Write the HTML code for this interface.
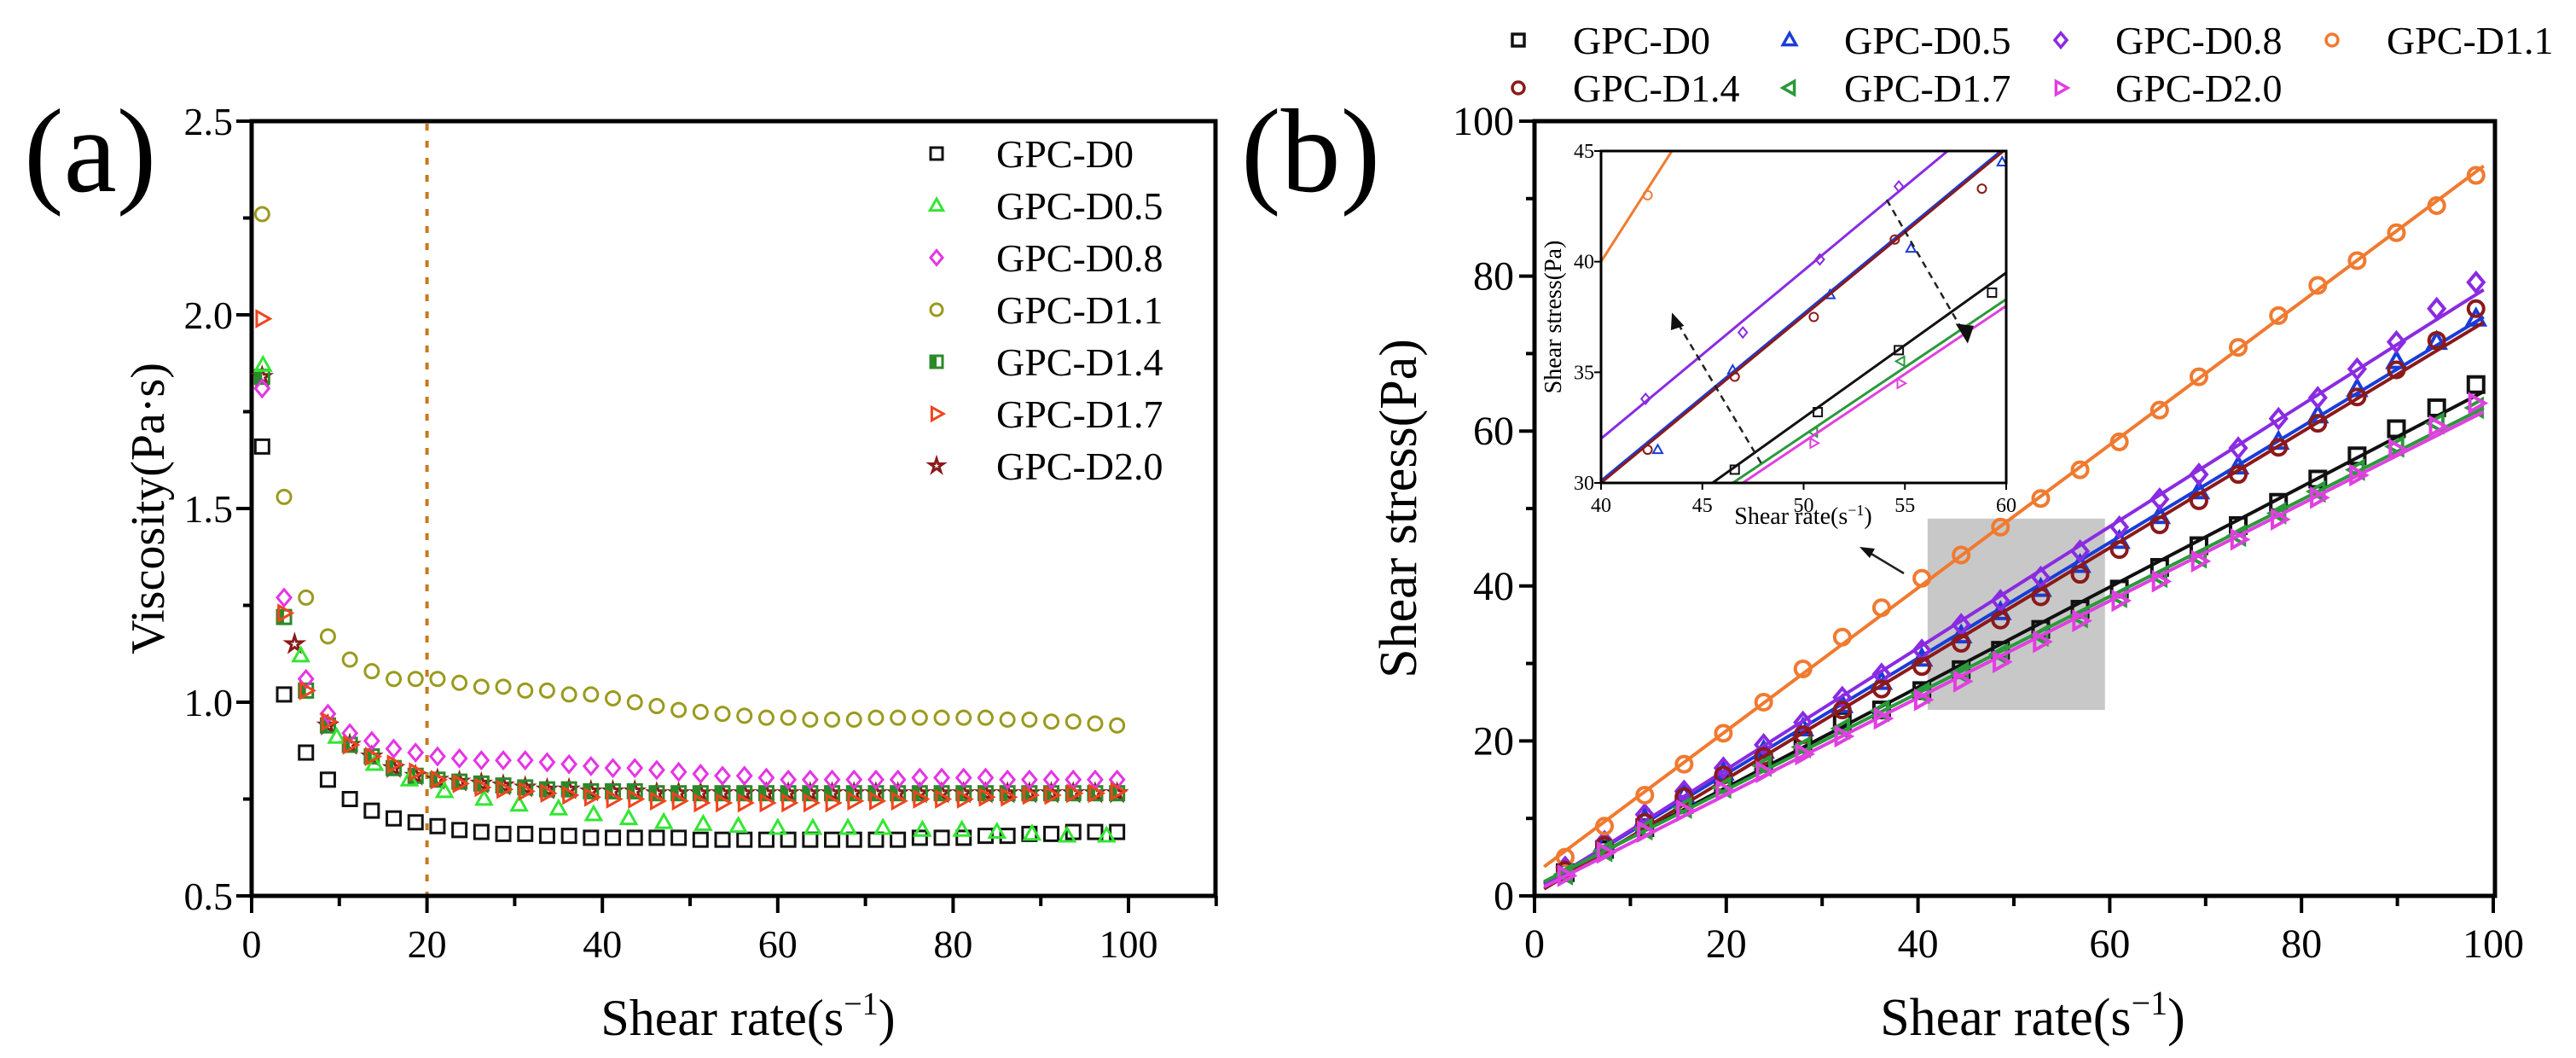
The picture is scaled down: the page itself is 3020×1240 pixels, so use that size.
<!DOCTYPE html>
<html><head><meta charset="utf-8">
<style>
html,body{margin:0;padding:0;background:#fff;}
svg{display:block;font-family:"Liberation Serif",serif;}
</style></head>
<body>
<svg id="fig" width="3020" height="1240" viewBox="0 0 3020 1240" xmlns="http://www.w3.org/2000/svg"></svg>
<script>
// ---------- Panel (a) data ----------
const aX = [1.2,3.7,6.2,8.7,11.2,13.7,16.2,18.7,21.2,23.7,26.2,28.7,31.2,33.7,36.2,38.7,41.2,43.7,46.2,48.7,51.2,53.7,56.2,58.7,61.2,63.7,66.2,68.7,71.2,73.7,76.2,78.7,81.2,83.7,86.2,88.7,91.2,93.7,96.2,98.7];
const aD0 = [1.66,1.02,0.87,0.80,0.75,0.72,0.70,0.69,0.68,0.67,0.665,0.66,0.66,0.655,0.655,0.65,0.65,0.65,0.65,0.65,0.645,0.645,0.645,0.645,0.645,0.645,0.645,0.645,0.645,0.645,0.65,0.65,0.65,0.655,0.655,0.66,0.66,0.665,0.665,0.665];
const aD11 = [2.26,1.53,1.27,1.17,1.11,1.08,1.06,1.06,1.06,1.05,1.04,1.04,1.03,1.03,1.02,1.02,1.01,1.00,0.99,0.98,0.975,0.97,0.965,0.96,0.96,0.955,0.955,0.955,0.96,0.96,0.96,0.96,0.96,0.96,0.955,0.955,0.95,0.95,0.945,0.94];
const aD08 = [1.81,1.27,1.06,0.97,0.92,0.90,0.88,0.87,0.86,0.855,0.85,0.85,0.85,0.845,0.84,0.835,0.83,0.83,0.825,0.82,0.815,0.81,0.81,0.805,0.80,0.80,0.80,0.80,0.80,0.80,0.805,0.805,0.805,0.805,0.80,0.80,0.80,0.80,0.80,0.80];
const aD14 = [1.84,1.22,1.03,0.94,0.89,0.86,0.83,0.81,0.80,0.795,0.79,0.785,0.78,0.775,0.775,0.77,0.77,0.77,0.765,0.765,0.765,0.765,0.765,0.765,0.765,0.765,0.765,0.765,0.765,0.765,0.765,0.765,0.765,0.765,0.765,0.765,0.765,0.765,0.765,0.765];
const aD17 = [1.99,1.23,1.03,0.95,0.89,0.86,0.84,0.82,0.80,0.79,0.78,0.775,0.77,0.765,0.76,0.755,0.75,0.75,0.745,0.745,0.74,0.74,0.74,0.74,0.74,0.74,0.74,0.745,0.745,0.745,0.75,0.75,0.75,0.755,0.755,0.76,0.76,0.765,0.765,0.77];
const aX20 = [1.2,4.9,8.7,11.2,13.7,16.2,18.7,21.2,23.7,26.2,28.7,31.2,33.7,36.2,38.7,41.2,43.7,46.2,48.7,51.2,53.7,56.2,58.7,61.2,63.7,66.2,68.7,71.2,73.7,76.2,78.7,81.2,83.7,86.2,88.7,91.2,93.7,96.2,98.7];
const aD20 = [1.84,1.15,0.94,0.89,0.86,0.83,0.81,0.80,0.795,0.79,0.785,0.78,0.775,0.775,0.77,0.77,0.77,0.765,0.765,0.765,0.765,0.765,0.765,0.765,0.765,0.765,0.765,0.765,0.765,0.765,0.765,0.765,0.765,0.765,0.765,0.765,0.765,0.765,0.765];
const aX05 = [1.3,5.6,9.7,14,18,22,26.5,30.5,35,39,43,47,51.5,55.5,60,64,68,72,76.5,81,85,89,93,97.5];
const aD05 = [1.87,1.12,0.91,0.84,0.80,0.77,0.75,0.735,0.725,0.71,0.70,0.69,0.685,0.68,0.675,0.675,0.675,0.675,0.67,0.67,0.665,0.66,0.655,0.655];
const aYTicks = [0.5,1.0,1.5,2.0,2.5];
const aXTicks = [0,20,40,60,80,100];
const aRefLine = [20];

// ---------- Panel (b) data ----------
const bX = [3.2,7.3,11.5,15.6,19.7,23.9,28,32.1,36.2,40.4,44.5,48.6,52.8,56.9,61,65.2,69.3,73.4,77.6,81.7,85.8,89.9,94.1,98.2];
const bD0 = [3,6,8.8,11.8,14.5,17.2,20,22.6,24,26.5,29.2,31.7,34.4,37,39.6,42.4,45.2,47.8,50.8,53.8,56.8,60.3,63,66];
const bD05 = [3.5,6.8,9.9,13,15.9,18.7,21.6,24.6,27.6,30.6,33.6,36.6,39.6,42.7,45.8,49,52.2,55.4,58.6,62,65.4,69,71.5,74.5];
const bD08 = [3.7,7,10.5,13.5,16.5,19.5,22.4,25.6,28.6,31.7,35,38.1,41.1,44.5,47.6,51.2,54.4,57.8,61.6,64.3,68,71.5,75.8,79.2];
const bD11 = [5,9,13,17,21,25,29.3,33.4,37.2,41,44,47.6,51.3,55,58.6,62.7,67,70.8,74.9,78.8,82,85.6,89.1,93];
const bD14 = [3.3,6.5,9.5,12.8,15.6,18,20.8,24,26.7,29.6,32.6,35.6,38.6,41.5,44.7,47.9,51,54.4,57.9,61,64.4,67.9,71.7,75.8];
const bD17 = [2.8,5.8,8.6,11.4,14,16.8,19.2,21.6,23.9,26.2,28.8,31.2,33.6,36,38.6,41.2,43.7,46.5,49.4,52.2,55,58,61,63];
const bD20 = [2.6,5.6,8.3,11,13.6,16,18.3,20.6,22.9,25.3,27.7,30.2,32.8,35.5,38.1,40.6,43.2,46,48.6,51.4,54.3,57.6,60.6,63.6];
const bYTicks = [0,20,40,60,80,100];
const bXTicks = [0,20,40,60,80,100];
const bHighlightX = [41,59.5];
const bHighlightY = [24,48.7];

// ---------- Inset data ----------
const iLineX = [40,60];
const iLineD11 = [40,68.6];
const iLineD08 = [32,47.2];
const iLineD14 = [30,45.1];
const iLineD05 = [30.1,45.2];
const iLineD0 = [26.4,39.5];
const iLineD17 = [26,38.3];
const iLineD20 = [25.7,38];
const iPtD11x = [42.3], iPtD11y = [43];
const iPtD08x = [42.2,47,50.8,54.7], iPtD08y = [33.8,36.8,40.1,43.4];
const iPtD14x = [42.3,46.6,50.5,54.5,58.8], iPtD14y = [31.5,34.8,37.5,41,43.3];
const iPtD05x = [42.8,46.5,51.3,55.3,59.8], iPtD05y = [31.5,35.1,38.5,40.6,44.5];
const iPtD0x = [46.6,50.7,54.7,59.3], iPtD0y = [30.6,33.2,36,38.6];
const iPtD17x = [50.5,54.8], iPtD17y = [32.3,35.5];
const iPtD20x = [50.5,54.8], iPtD20y = [31.8,34.5];
const iXTicks = [40,45,50,55,60];
const iYTicks = [30,35,40,45];

const NS = "http://www.w3.org/2000/svg";
const svg = document.getElementById('fig');
function el(tag, attrs, parent, text){
  const e = document.createElementNS(NS, tag);
  for (const k in attrs) e.setAttribute(k, attrs[k]);
  if (text !== undefined) e.textContent = text;
  (parent || svg).appendChild(e);
  return e;
}
function marker(g, shape, cx, cy, r, color, sw){
  let m;
  if (shape === 'square') m = el('rect',{x:cx-r,y:cy-r,width:2*r,height:2*r,fill:'none',stroke:color,'stroke-width':sw},g);
  else if (shape === 'halfsquare'){ m = el('g',{},g);
    el('rect',{x:cx-r,y:cy-r,width:2*r,height:2*r,fill:'none',stroke:color,'stroke-width':sw},m);
    el('rect',{x:cx-r,y:cy-r,width:r,height:2*r,fill:color},m); }
  else if (shape === 'circle') m = el('circle',{cx:cx,cy:cy,r:r,fill:'none',stroke:color,'stroke-width':sw},g);
  else if (shape === 'up') m = el('polygon',{points:`${cx},${cy-r*1.15} ${cx-r*1.1},${cy+r*0.8} ${cx+r*1.1},${cy+r*0.8}`,fill:'none',stroke:color,'stroke-width':sw},g);
  else if (shape === 'diamond') m = el('polygon',{points:`${cx},${cy-r*1.2} ${cx+r},${cy} ${cx},${cy+r*1.2} ${cx-r},${cy}`,fill:'none',stroke:color,'stroke-width':sw},g);
  else if (shape === 'right') m = el('polygon',{points:`${cx+r*1.15},${cy} ${cx-r*0.8},${cy-r*1.1} ${cx-r*0.8},${cy+r*1.1}`,fill:'none',stroke:color,'stroke-width':sw},g);
  else if (shape === 'left') m = el('polygon',{points:`${cx-r*1.15},${cy} ${cx+r*0.8},${cy-r*1.1} ${cx+r*0.8},${cy+r*1.1}`,fill:'none',stroke:color,'stroke-width':sw},g);
  else if (shape === 'star'){ let p=[]; for(let k=0;k<10;k++){const a=-Math.PI/2+k*Math.PI/5; const rr=k%2?r*0.45:r*1.2; p.push((cx+rr*Math.cos(a)).toFixed(1)+','+(cy+rr*Math.sin(a)).toFixed(1));}
    m = el('polygon',{points:p.join(' '),fill:'none',stroke:color,'stroke-width':sw},g); }
  
  
  return m;
}
function axisFrame(L,R,T,B,name){
  const g = el('g',{});
  
  
  el('rect',{x:L,y:T,width:R-L,height:B-T,fill:'none',stroke:'#000','stroke-width':5},g);
  return g;
}

// ================= Panel (a) =================
const aL=295, aR=1425, aT=142, aB=1050;
const ax = v => aL + (v-0)*(1322-294)/100;
const ay = v => aB - (v-0.5)*(aB-aT)/2.0;
const ga = el('g',{});


const pa = el('text',{x:28,y:224,'font-size':140},ga,'(a)');
 
aRefLine.forEach(v=>{ const l=el('line',{x1:ax(v),y1:aT+3,x2:ax(v),y2:aB,stroke:'#c8781e','stroke-width':4,'stroke-dasharray':'8 12'},ga);
    });
const fa = axisFrame(aL,aR,aT,aB,'panel-a-axes'); ga.appendChild(fa);
aYTicks.forEach(v=>{ el('line',{x1:aL-18,y1:ay(v),x2:aL,y2:ay(v),stroke:'#000','stroke-width':4},fa);
  const t=el('text',{x:aL-22,y:ay(v)+16,'font-size':46,'text-anchor':'end'},fa,v.toFixed(1));
   
  if (v<2.5) el('line',{x1:aL-10,y1:ay(v+0.25),x2:aL,y2:ay(v+0.25),stroke:'#000','stroke-width':4},fa); });
for (let v=0; v<=110; v+=10){ el('line',{x1:ax(v),y1:aB,x2:ax(v),y2:aB+(v%20===0?20:12),stroke:'#000','stroke-width':4},fa); }
aXTicks.forEach(v=>{ const t=el('text',{x:ax(v),y:1122,'font-size':46,'text-anchor':'middle'},fa,String(v));
    });
const aXT = el('text',{x:877,y:1213,'font-size':60,'text-anchor':'middle'},ga);
 
aXT.appendChild(document.createTextNode('Shear rate(s'));
el('tspan',{dy:-24,'font-size':38},aXT,'−1');
el('tspan',{dy:24},aXT,')');
const aYT = el('text',{transform:`translate(192,${(aT+aB)/2}) rotate(-90)`,'font-size':56,'text-anchor':'middle'},ga,'Viscosity(Pa·s)');
 

const aSeries = [
  {n:'GPC-D0', x:aX, y:aD0, s:'square', c:'#111'},
  {n:'GPC-D0.5', x:aX05, y:aD05, s:'up', c:'#33e633'},
  {n:'GPC-D0.8', x:aX, y:aD08, s:'diamond', c:'#e633e6'},
  {n:'GPC-D1.1', x:aX, y:aD11, s:'circle', c:'#9a9a1e'},
  {n:'GPC-D1.4', x:aX, y:aD14, s:'halfsquare', c:'#2a8a2a'},
  {n:'GPC-D1.7', x:aX, y:aD17, s:'right', c:'#f0441e'},
  {n:'GPC-D2.0', x:aX20, y:aD20, s:'star', c:'#8b1a1a'}
];
const drawOrderA = [6,4,0,1,2,5,3];
drawOrderA.forEach(i=>{ const s=aSeries[i]; const g=el('g',{},ga);
  
  
  s.y.forEach((v,k)=>marker(g,s.s,ax(s.x[k]),ay(v),8,s.c,3)); });
aSeries.forEach((s,i)=>{ const yy=180+i*61; const g=el('g',{},ga);
   
  marker(g,s.s,1098,yy,7,s.c,3);
  el('text',{x:1168,y:yy+16,'font-size':46},g,s.n); });

// ================= Panel (b) =================
const bL=1799, bR=2925, bT=142, bB=1050;
const bx = v => bL + v*(2923-1799)/100;
const by = v => bB - v*(bB-bT)/100;
const gb = el('g',{});


const pb = el('text',{x:1455,y:224,'font-size':140},gb,'(b)');
 
const hb = el('rect',{x:bx(bHighlightX[0]),y:by(bHighlightY[1]),width:bx(bHighlightX[1])-bx(bHighlightX[0]),height:by(bHighlightY[0])-by(bHighlightY[1]),fill:'#c8c8c8'},gb);
 
const fb = axisFrame(bL,bR,bT,bB,'panel-b-axes'); gb.appendChild(fb);
bYTicks.forEach(v=>{ el('line',{x1:bL-18,y1:by(v),x2:bL,y2:by(v),stroke:'#000','stroke-width':4},fb);
  const t=el('text',{x:bL-24,y:by(v)+16,'font-size':48,'text-anchor':'end'},fb,String(v));
   
  if (v<100) el('line',{x1:bL-10,y1:by(v+10),x2:bL,y2:by(v+10),stroke:'#000','stroke-width':4},fb); });
for (let v=0; v<=100; v+=10){ el('line',{x1:bx(v),y1:bB,x2:bx(v),y2:bB+(v%20===0?20:12),stroke:'#000','stroke-width':4},fb); }
bXTicks.forEach(v=>{ const t=el('text',{x:bx(v),y:1122,'font-size':48,'text-anchor':'middle'},fb,String(v));
    });
const bXT = el('text',{x:2383,y:1213,'font-size':62,'text-anchor':'middle'},gb);
 
bXT.appendChild(document.createTextNode('Shear rate(s'));
el('tspan',{dy:-24,'font-size':40},bXT,'−1');
el('tspan',{dy:24},bXT,')');
const bYT = el('text',{transform:`translate(1660,${(bT+bB)/2}) rotate(-90)`,'font-size':62,'text-anchor':'middle'},gb,'Shear stress(Pa)');
 

const bSeries = [
  {n:'GPC-D0', y:bD0, s:'square', c:'#111'},
  {n:'GPC-D0.5', y:bD05, s:'up', c:'#1a3cd8'},
  {n:'GPC-D0.8', y:bD08, s:'diamond', c:'#8a2be2'},
  {n:'GPC-D1.1', y:bD11, s:'circle', c:'#f07a30'},
  {n:'GPC-D1.4', y:bD14, s:'circle', c:'#8b1a1a'},
  {n:'GPC-D1.7', y:bD17, s:'left', c:'#2a9a3a'},
  {n:'GPC-D2.0', y:bD20, s:'right', c:'#e040e0'}
];
function fit(xs,ys){ const n=xs.length; let sx=0,sy=0,sxx=0,sxy=0;
  for(let i=0;i<n;i++){sx+=xs[i];sy+=ys[i];sxx+=xs[i]*xs[i];sxy+=xs[i]*ys[i];}
  const b=(n*sxy-sx*sy)/(n*sxx-sx*sx); return [(sy-b*sx)/n,b]; }
bSeries.forEach(s=>{ const g=el('g',{},gb);
  
  
  const [a,b]=fit(bX,s.y);
  const ln=el('line',{x1:bx(1),y1:by(a+b*1),x2:bx(99),y2:by(a+b*99),stroke:s.c,'stroke-width':4},g);
   
  s.y.forEach((v,k)=>marker(g,s.s,bx(bX[k]),by(v),9,s.c,4)); });
const legPos = [[1780,47],[2098,47],[2416,47],[2734,47],[1780,103],[2098,103],[2416,103]];
bSeries.forEach((s,i)=>{ const g=el('g',{},gb);
   
  const [lx,ly]=legPos[i];
  marker(g,s.s,lx,ly,7,s.c,3.5);
  el('text',{x:lx+64,y:ly+16,'font-size':46},g,s.n); });

const arr = el('g',{},gb);
 
el('line',{x1:2232,y1:672,x2:2192,y2:648,stroke:'#222','stroke-width':2.5},arr);
el('polygon',{points:'2180,641 2198,643 2192,654',fill:'#111'},arr);

// ================= Inset =================
const iL=1877, iR=2352, iT=177, iB=566;
const ix = v => iL + (v-40)*(iR-iL)/20;
const iy = v => iB - (v-30)*(iB-iT)/15;
const gi = el('g',{});


el('rect',{x:iL,y:iT,width:iR-iL,height:iB-iT,fill:'#fff'},gi);
const clip = el('clipPath',{id:'iclip'},gi);
el('rect',{x:iL,y:iT,width:iR-iL,height:iB-iT},clip);
const gic = el('g',{'clip-path':'url(#iclip)'},gi);
const iSeries = [
  {l:iLineD11,px:iPtD11x,py:iPtD11y,s:'circle',c:'#f07a30'},
  {l:iLineD08,px:iPtD08x,py:iPtD08y,s:'diamond',c:'#8a2be2'},
  {l:iLineD05,px:iPtD05x,py:iPtD05y,s:'up',c:'#1a3cd8'},
  {l:iLineD14,px:iPtD14x,py:iPtD14y,s:'circle',c:'#8b1a1a'},
  {l:iLineD0,px:iPtD0x,py:iPtD0y,s:'square',c:'#111'},
  {l:iLineD17,px:iPtD17x,py:iPtD17y,s:'left',c:'#2a9a3a'},
  {l:iLineD20,px:iPtD20x,py:iPtD20y,s:'right',c:'#e040e0'}
];
iSeries.forEach(s=>{ const g=el('g',{},gic);
   
  el('line',{x1:ix(iLineX[0]),y1:iy(s.l[0]),x2:ix(iLineX[1]),y2:iy(s.l[1]),stroke:s.c,'stroke-width':3},g);
  s.px.forEach((v,k)=>marker(g,s.s,ix(v),iy(s.py[k]),5,s.c,2)); });
const da = el('g',{},gi);
 
el('line',{x1:ix(47.9),y1:iy(30.9),x2:ix(43.8),y2:iy(37.2),stroke:'#222','stroke-width':2.5,'stroke-dasharray':'8 6'},da);
el('polygon',{points:`${ix(43.5)},${iy(37.7)} ${ix(43.7)-6},${iy(36.9)} ${ix(44.1)},${iy(37.1)}`,fill:'#111'},da);
el('line',{x1:ix(54.1),y1:iy(42.8),x2:ix(57.9),y2:iy(36.8),stroke:'#222','stroke-width':2.5,'stroke-dasharray':'8 6'},da);
el('polygon',{points:`${ix(58.1)},${iy(36.3)} ${ix(57.5)},${iy(37.2)} ${ix(58.4)},${iy(37.1)}`,fill:'#111'},da);
el('rect',{x:iL,y:iT,width:iR-iL,height:iB-iT,fill:'none',stroke:'#000','stroke-width':3},gi);
iXTicks.forEach(v=>{ el('line',{x1:ix(v),y1:iB,x2:ix(v),y2:iB+8,stroke:'#000','stroke-width':2},gi);
  const t=el('text',{x:ix(v),y:iB+34,'font-size':24,'text-anchor':'middle'},gi,String(v));
    });
iYTicks.forEach(v=>{ el('line',{x1:iL-8,y1:iy(v),x2:iL,y2:iy(v),stroke:'#000','stroke-width':2},gi);
  const t=el('text',{x:iL-8,y:iy(v)+8,'font-size':24,'text-anchor':'end'},gi,String(v));
    });
const iXT = el('text',{x:2114,y:614,'font-size':28,'text-anchor':'middle'},gi);
 
iXT.appendChild(document.createTextNode('Shear rate(s'));
el('tspan',{dy:-10,'font-size':18},iXT,'−1');
el('tspan',{dy:10},iXT,')');
const iYT = el('text',{transform:`translate(1830,${(iT+iB)/2}) rotate(-90)`,'font-size':28,'text-anchor':'middle'},gi,'Shear stress(Pa)');
 
</script>
</body></html>
